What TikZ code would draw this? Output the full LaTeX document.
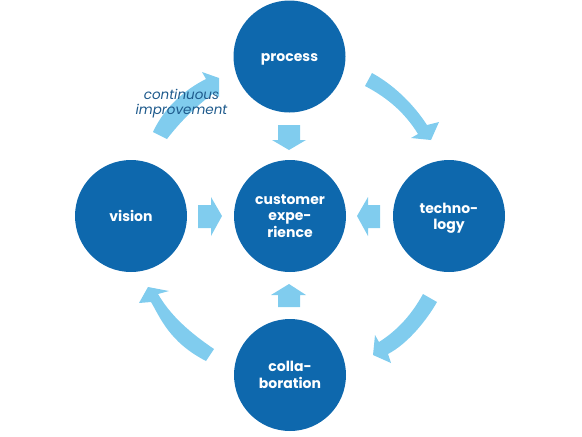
\documentclass[tikz,border=0pt]{standalone}
\usepackage{fontspec}
\setmainfont{Poppins}
\definecolor{discblue}{RGB}{14,104,173}
\definecolor{arrowblue}{RGB}{128,204,238}
\definecolor{captionblue}{RGB}{30,90,140}
\tikzset{
    disc/.style={circle, fill=discblue, minimum size=112pt, inner sep=0pt, align=center, text=white, font=\fontsize{14}{16.5}\selectfont\bfseries},
    flow/.style={fill=arrowblue}
}
\begin{document}
\begin{tikzpicture}[x=1pt, y=-1pt]
    \useasboundingbox (0,0) rectangle (582,437);
    \node[disc] (process) at (289.5,56.5) {\rule{0pt}{13pt}process};
    \node[disc] (customer) at (290,216) {customer\\expe-\\rience};
    \node[disc] (vision) at (131,216) {vision};
    \node[disc] (technology) at (449,216) {\rule{0pt}{15pt}techno-\\logy};
    \node[disc] (collaboration) at (290,375) {colla-\\boration};
    % curved arrows between the outer discs
    \fill[flow] (153,132) .. controls (164,108) and (184,90) .. (206,79) -- (202,72) -- (219,78) -- (219,97) -- (214,93)
        .. controls (196,106) and (180,122) .. (167,139) -- cycle;
    \fill[flow] (372,73) .. controls (392,84) and (412,102) .. (427,125) -- (439,122) -- (431,140) -- (411,138) -- (418,134)
        .. controls (405,113) and (388,98) .. (365,86) -- cycle;
    \fill[flow] (423,294) -- (437,302) .. controls (428,318) and (409,343) .. (388,354) -- (391,363) -- (373,355) -- (375,335) -- (379,342)
        .. controls (398,330) and (412,314) .. (423,294) -- cycle;
    \fill[flow] (214,349) -- (206,361) .. controls (169,342) and (160,317) .. (151,302) -- (139,303) -- (148,287) -- (169,291) -- (158,294)
        .. controls (168,311) and (183,328) .. (214,349) -- cycle;
    % short arrows towards the middle
    \fill[flow] (278,125) -- (300,125) -- (300,140) -- (306,140) -- (289,150) -- (272,140) -- (278,140) -- cycle;
    \fill[flow] (278,307) -- (300,307) -- (300,295) -- (306,295) -- (289,284) -- (271,295) -- (278,295) -- cycle;
    \fill[flow] (198,205) -- (211,205) -- (211,197) -- (222,216) -- (211,236) -- (211,228) -- (198,228) -- cycle;
    \fill[flow] (380,205) -- (368,205) -- (368,197) -- (357,216) -- (368,236) -- (368,228) -- (380,228) -- cycle;
    \node[text=captionblue, font=\fontsize{13.5}{15.5}\selectfont\itshape, align=center] (caption) at (181.5,103.5) {continuous\\improvement};
\end{tikzpicture}
\end{document}
